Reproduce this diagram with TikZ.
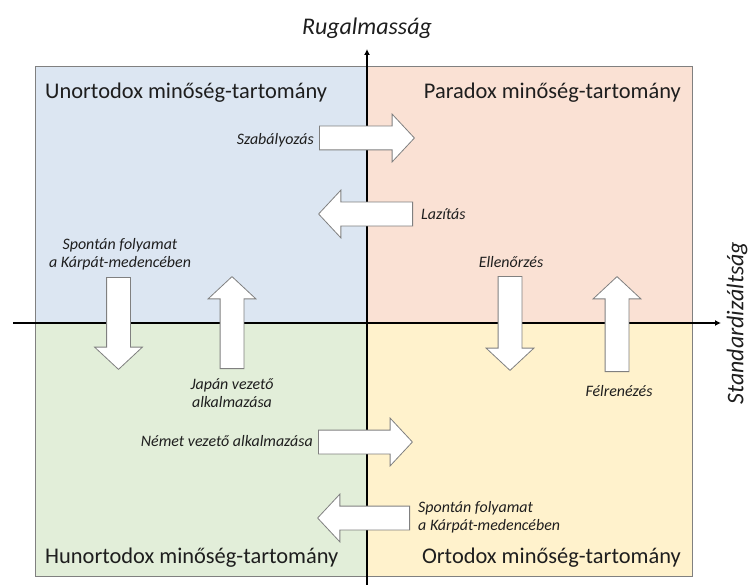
\documentclass[tikz,border=0pt]{standalone}
\usepackage{fontspec}
\setmainfont{Carlito}
\usepackage{tikz}
\usetikzlibrary{shapes.arrows,arrows.meta}
\definecolor{qblue}{RGB}{220,230,242}
\definecolor{qpeach}{RGB}{250,225,212}
\definecolor{qgreen}{RGB}{226,238,217}
\definecolor{qyellow}{RGB}{255,242,204}
\definecolor{txt}{RGB}{30,30,30}
\definecolor{frame}{RGB}{128,128,128}

\begin{document}
\begin{tikzpicture}[x=1bp,y=-1bp,
          title/.style={font=\fontsize{22.5}{26}\selectfont,text=txt,inner sep=0pt},
          axlbl/.style={font=\itshape\fontsize{24}{28}\selectfont,text=txt,inner sep=0pt},
          lbl/.style={font=\itshape\fontsize{16}{18}\selectfont,text=txt,inner sep=0pt},
          bigarrow/.style={single arrow,draw=frame,fill=white,line width=0.8pt,
                      minimum width=47bp,single arrow head extend=12bp,
                      single arrow tip angle=94,anchor=tail},
          harrow/.style={bigarrow,inner xsep=0pt,inner ysep=11.5bp},
          varrow/.style={bigarrow,inner ysep=0pt,inner xsep=11.5bp}]
        \useasboundingbox (0,0) rectangle (748,585);
        % quadrants
        \fill[qblue]   (35,67)  rectangle (367,323);
        \fill[qpeach]  (367,67) rectangle (692,323);
        \fill[qgreen]  (35,323) rectangle (367,576);
        \fill[qyellow] (367,323) rectangle (692,576);
        \draw[frame,line width=1pt] (35,67) rectangle (692,576);
        % axes
        \coordinate (xs) at (13,323);
        \coordinate (xe) at (721,323);
        \coordinate (ys) at (367,585);
        \coordinate (ye) at (367,49);
        \draw[line width=2.4pt,-{Latex[length=6pt,width=6pt]}] (xs) -- (xe);
        \draw[line width=2.4pt,-{Latex[length=6pt,width=6pt]}] (ys) -- (ye);
        \node[axlbl] (rug) at (367,28) {Rugalmasság};
        \node[axlbl,rotate=90] (std) at (737,323) {Standardizáltság};
        % quadrant names
        \node[title,anchor=west] (unort) at (45,93) {Unortodox minőség-tartomány};
        \node[title,anchor=east] (parad) at (681,93) {Paradox minőség-tartomány};
        \node[title,anchor=west] (hunort) at (45,558) {Hunortodox minőség-tartomány};
        \node[title,anchor=east] (ortod) at (681,558) {Ortodox minőség-tartomány};
        % block arrows between the quadrants
        \node[harrow,minimum height=95bp] (szab) at (319,138) {};
        \node[harrow,minimum height=94bp,shape border rotate=180] (lazit) at (413,214) {};
        \node[varrow,minimum height=92bp,shape border rotate=270] (spont1) at (118.5,277) {};
        \node[varrow,minimum height=92bp,shape border rotate=90] (japan) at (232,369) {};
        \node[varrow,minimum height=94bp,shape border rotate=270] (ellen) at (510,276) {};
        \node[varrow,minimum height=95bp,shape border rotate=90] (felre) at (617,372) {};
        \node[harrow,minimum height=94bp] (nemet) at (318,442) {};
        \node[harrow,minimum height=92bp,shape border rotate=180] (spont2) at (410,518) {};
        % arrow labels
        \node[lbl,anchor=east] at (314,140) {Szabályozás};
        \node[lbl,anchor=west] at (421,214) {Lazítás};
        \node[lbl,align=center] at (120,254) {Spontán folyamat\\a Kárpát-medencében};
        \node[lbl,align=center] at (232,393) {Japán vezető\\alkalmazása};
        \node[lbl] at (511,262) {Ellenőrzés};
        \node[lbl] at (619,391) {Félrenézés};
        \node[lbl,anchor=east] at (313,441) {Német vezető alkalmazása};
        \node[lbl,align=left,anchor=west] at (418,517) {Spontán folyamat\\a Kárpát-medencében};
\end{tikzpicture}
\end{document}
